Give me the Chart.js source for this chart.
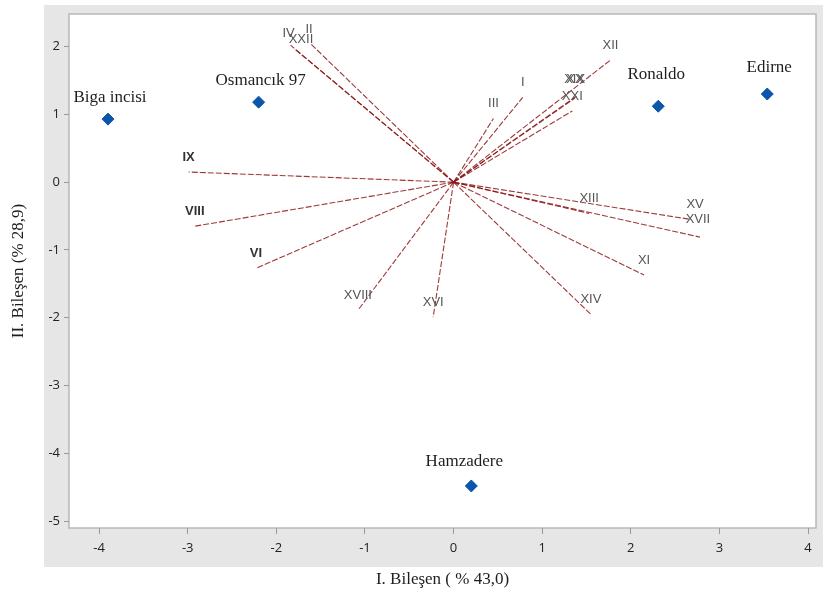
<!DOCTYPE html>
<html>
<head>
<meta charset="utf-8">
<script src="https://cdn.jsdelivr.net/npm/chart.js@4"></script>
<style>
  body { margin: 0; background: #fff; }
  canvas { display: block; }
</style>
</head>
<body>
<canvas id="biplot" width="823" height="608"></canvas>
<script>
// cultivar scores
const cultivars = ['Biga incisi', 'Osmancık 97', 'Ronaldo', 'Edirne', 'Hamzadere'];
const scoreX = [-3.90, -2.20, 2.31, 3.54, 0.20];
const scoreY = [0.93, 1.18, 1.12, 1.30, -4.48];

// trait loadings (vectors from origin)
const traits = ['I', 'II', 'III', 'IV', 'VI', 'VIII', 'IX', 'XI', 'XII', 'XIII', 'XIV',
  'XV', 'XVI', 'XVII', 'XVIII', 'XIX', 'XX', 'XXI', 'XXII'];
const loadX = [0.78, -1.62, 0.45, -1.84, -2.23, -2.92, -2.99, 2.15, 1.77, 1.53, 1.55,
  2.68, -0.23, 2.78, -1.08, 1.40, 1.37, 1.34, -1.79];
const loadY = [1.25, 2.05, 0.94, 2.02, -1.27, -0.65, 0.15, -1.37, 1.80, -0.46, -1.95,
  -0.55, -1.99, -0.81, -1.89, 1.28, 1.24, 1.05, 1.96];

const xTicksStep = 1;
const yTicksStep = 1;

// label nudges in pixels
const cultivarNudge = { 'Ronaldo': [-2, -32], 'Edirne': [2, -26], 'Hamzadere': [-7, -24] };
const traitNudge = { 'IV': [-2, -12], 'XXII': [6, -10], 'II': [-1, -14], 'XV': [4, -15], 'XVII': [-2, -18], 'XIX': [-3, -16], 'XX': [0, -19] };
const boldTraits = ['IX', 'VIII', 'VI'];

const datasets = [];
datasets.push({
  label: 'cultivars',
  data: cultivars.map((c, i) => ({ x: scoreX[i], y: scoreY[i] })),
  pointStyle: 'rectRot',
  pointRadius: 6,
  backgroundColor: '#0b55ab',
  borderColor: '#0b55ab',
  showLine: false,
  order: 0
});
traits.forEach((t, i) => {
  datasets.push({
    label: t,
    data: [{ x: 0, y: 0 }, { x: loadX[i], y: loadY[i] }],
    showLine: true,
    borderColor: 'rgba(140,22,22,0.85)',
    borderWidth: 1.1,
    borderDash: [6, 2],
    pointRadius: 0,
    order: 1
  });
});

const panelPlugin = {
  id: 'panel',
  beforeDraw(chart) {
    const { ctx, chartArea: a } = chart;
    ctx.save();
    ctx.fillStyle = '#ffffff';
    ctx.fillRect(0, 0, chart.width, chart.height);
    ctx.fillStyle = '#e6e6e6';
    ctx.fillRect(44, 5, chart.width - 44, 562);
    ctx.fillStyle = '#ffffff';
    ctx.fillRect(a.left, a.top, a.right - a.left, a.bottom - a.top);
    ctx.strokeStyle = '#b8b8b8';
    ctx.lineWidth = 1.5;
    ctx.strokeRect(a.left, a.top, a.right - a.left, a.bottom - a.top);
    ctx.restore();
  }
};

const labelPlugin = {
  id: 'labels',
  afterDatasetsDraw(chart) {
    const { ctx, scales: { x, y } } = chart;
    ctx.save();
    ctx.textAlign = 'center';
    ctx.textBaseline = 'middle';
    traits.forEach((t, i) => {
      const n = traitNudge[t] || [0, -15];
      const bold = boldTraits.includes(t);
      ctx.font = (bold ? 'bold ' : '') + '13px "Liberation Sans", Arial, sans-serif';
      ctx.fillStyle = bold ? '#333' : '#555';
      ctx.fillText(t, x.getPixelForValue(loadX[i]) + n[0], y.getPixelForValue(loadY[i]) + n[1]);
    });
    ctx.font = '17px "Liberation Serif", "Times New Roman", serif';
    ctx.fillStyle = '#1e1e1e';
    cultivars.forEach((c, i) => {
      const n = cultivarNudge[c] || [2, -22];
      ctx.fillText(c, x.getPixelForValue(scoreX[i]) + n[0], y.getPixelForValue(scoreY[i]) + n[1]);
    });
    ctx.restore();
  }
};

new Chart(document.getElementById('biplot'), {
  type: 'scatter',
  data: { datasets },
  plugins: [panelPlugin, labelPlugin],
  options: {
    responsive: false,
    animation: false,
    layout: { padding: { top: 14, right: 3, left: 0, bottom: 0 } },
    plugins: { legend: { display: false }, tooltip: { enabled: false } },
    scales: {
      x: {
        type: 'linear',
        min: -4.34,
        max: 4.09,
        afterFit: s => { s.height = 80; },
        ticks: {
          stepSize: xTicksStep,
          includeBounds: false,
          padding: 6,
          color: '#222',
          font: { family: '"Open Sans", sans-serif', size: 13 }
        },
        grid: { drawOnChartArea: false, tickLength: 6, color: '#999' },
        border: { display: false },
        title: {
          display: true,
          text: 'I. Bileşen ( % 43,0)',
          color: '#1e1e1e',
          padding: { top: 0, bottom: 18 },
          font: { family: '"Liberation Serif", serif', size: 17 }
        }
      },
      y: {
        type: 'linear',
        min: -5.10,
        max: 2.48,
        afterFit: s => { s.width = 69; },
        ticks: {
          stepSize: yTicksStep,
          includeBounds: false,
          padding: 4,
          color: '#222',
          font: { family: '"Open Sans", sans-serif', size: 13 }
        },
        grid: { drawOnChartArea: false, tickLength: 5, color: '#999' },
        border: { display: false },
        title: {
          display: true,
          text: 'II. Bileşen (% 28,9)',
          color: '#1e1e1e',
          padding: { top: 8, bottom: 0 },
          font: { family: '"Liberation Serif", serif', size: 17 }
        }
      }
    }
  }
});
</script>
</body>
</html>
